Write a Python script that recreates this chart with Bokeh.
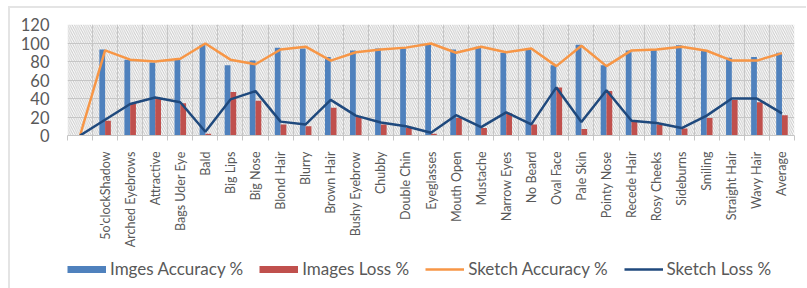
from bokeh.plotting import figure
from bokeh.models import (ColumnDataSource, FixedTicker, Legend, LegendItem, Range1d)
from bokeh.layouts import column
from bokeh.transform import dodge
from bokeh.embed import file_html
from bokeh.resources import INLINE

categories = ["", "5o'clockShadow", "Arched Eyebrows", "Attractive", "Bags Uder Eye",
              "Bald", "Big Lips", "Big Nose", "Blond Hair", "Blurry", "Brown Hair",
              "Bushy Eyebrow", "Chubby", "Double Chin", "Eyeglasses", "Mouth Open",
              "Mustache", "Narrow Eyes", "No Beard", "Oval Face", "Pale Skin",
              "Pointy Nose", "Recede Hair", "Rosy Cheeks", "Sideburns", "Smiling",
              "Straight Hair", "Wavy Hair", "Average"]
images_accuracy = [0, 93, 82, 79, 82, 98, 76, 81, 95, 94, 85, 92, 94, 94, 98, 93, 96,
                   89.5, 93, 76, 98, 76, 92, 93, 97.7, 92, 84, 85, 89.5]
images_loss = [0, 16, 35, 40, 35, 2, 47, 37.5, 12, 10, 30, 21, 12, 8, 2, 19, 8,
               24, 12, 52, 7, 48, 15, 12, 7.5, 19, 38.5, 36, 22]
sketch_accuracy = [0, 92, 82, 80, 83, 99.5, 82, 77, 93, 96, 81, 90, 93, 95, 99.5, 89.5, 96,
                   90, 94, 75, 97, 75, 92, 93, 96, 91.6, 81, 81, 89]
sketch_loss = [0, 17, 34, 41, 36, 4, 39, 48, 15, 12, 38.5, 21.5, 14, 10, 3, 22, 9,
               25, 12, 52, 14.5, 49, 16, 13.5, 8, 21.5, 40, 40, 24]
y_ticks = [0, 20, 40, 60, 80, 100, 120]
series_names = ["Imges Accuracy %", "Images Loss %", "Sketch Accuracy %", "Sketch Loss %"]

BLUE, RED, ORANGE, NAVY = "#4f81bd", "#c0504d", "#f79646", "#1f497d"
GRID = "#c6c6c6"
HATCH = "#c9c9c9"
TXT = "#595959"
FONT = "Lato"

n = len(categories)
centers = [i + 0.5 for i in range(n)]
bounds = list(range(n + 1))

src = ColumnDataSource(dict(x=centers, ia=images_accuracy, il=images_loss,
                            sa=sketch_accuracy, sl=sketch_loss))

p = figure(width=796, height=242, output_backend="svg", toolbar_location=None,
           x_range=Range1d(0, n), y_range=Range1d(0, y_ticks[-1]),
           min_border_left=57, min_border_right=12, min_border_top=16,
           min_border_bottom=113, outline_line_color=None,
           background_fill_color="white", border_fill_color="white")

p.quad(left=[0], right=[n], bottom=[y_ticks[0]], top=[y_ticks[-1]],
       fill_color="white", line_color=None, hatch_pattern="\\",
       hatch_color=HATCH, hatch_scale=4.5, hatch_weight=1, level="image")

p.vbar(x=dodge("x", -0.115), top="ia", width=0.23, source=src,
       fill_color=BLUE, line_color=None)
p.vbar(x=dodge("x", 0.115), top="il", width=0.23, source=src,
       fill_color=RED, line_color=None)
p.line("x", "sa", source=src, line_color=ORANGE, line_width=2.5)
p.line("x", "sl", source=src, line_color=NAVY, line_width=2.5)

p.xaxis.ticker = FixedTicker(ticks=centers, minor_ticks=bounds)
p.xaxis.major_label_overrides = {c: lab for c, lab in zip(centers, categories)}
p.xaxis.major_label_orientation = 3.14159265 / 2
p.xaxis.major_tick_line_color = None
p.xaxis.major_tick_out = 0
p.xaxis.major_tick_in = 0
p.xaxis.minor_tick_line_color = GRID
p.xaxis.minor_tick_out = 5
p.xaxis.minor_tick_in = 0
p.xaxis.axis_line_color = GRID
p.xaxis.major_label_standoff = 11
p.xaxis.major_label_text_font = FONT
p.xaxis.major_label_text_font_size = "12.5px"
p.xaxis.major_label_text_color = TXT

p.yaxis.ticker = FixedTicker(ticks=y_ticks)
p.yaxis.axis_line_color = None
p.yaxis.major_tick_line_color = None
p.yaxis.minor_tick_line_color = None
p.yaxis.major_tick_out = 0
p.yaxis.major_label_standoff = 18
p.yaxis.major_label_text_font = FONT
p.yaxis.major_label_text_font_size = "16.5px"
p.yaxis.major_label_text_color = TXT

p.xgrid.ticker = FixedTicker(ticks=bounds)
p.xgrid.grid_line_color = GRID
p.ygrid.ticker = FixedTicker(ticks=y_ticks)
p.ygrid.grid_line_color = GRID

# legend strip (its keys use the same data, kept out of its visible range)
p2 = figure(width=796, height=38, output_backend="svg", toolbar_location=None,
            x_range=Range1d(-10, -9), y_range=Range1d(0, 1),
            x_axis_location=None, y_axis_location=None, min_border=0,
            outline_line_color=None, border_fill_color="white",
            background_fill_color="white")
p2.grid.visible = False
k1 = p2.line("x", "ia", source=src, line_color=BLUE, line_width=7, line_cap="butt")
k2 = p2.line("x", "il", source=src, line_color=RED, line_width=7, line_cap="butt")
k3 = p2.line("x", "sa", source=src, line_color=ORANGE, line_width=2.5)
k4 = p2.line("x", "sl", source=src, line_color=NAVY, line_width=2.5)

legend = Legend(items=[LegendItem(label=s, renderers=[r])
                       for s, r in zip(series_names, [k1, k2, k3, k4])],
                orientation="horizontal", location=(0, 9),
                border_line_color=None, background_fill_alpha=0,
                label_text_font=FONT, label_text_font_size="17px",
                label_text_color=TXT, glyph_width=39, glyph_height=20,
                label_standoff=4, spacing=16, padding=0, margin=0,
                label_height=20)
p2.add_layout(legend)

layout = column(p, p2, spacing=0,
                styles={"margin-left": "8px", "margin-top": "6px",
                        "border-left": "2px solid #e4e4e4",
                        "border-top": "2px solid #e4e4e4"})

open("out.html", "w").write(file_html(layout, INLINE))
